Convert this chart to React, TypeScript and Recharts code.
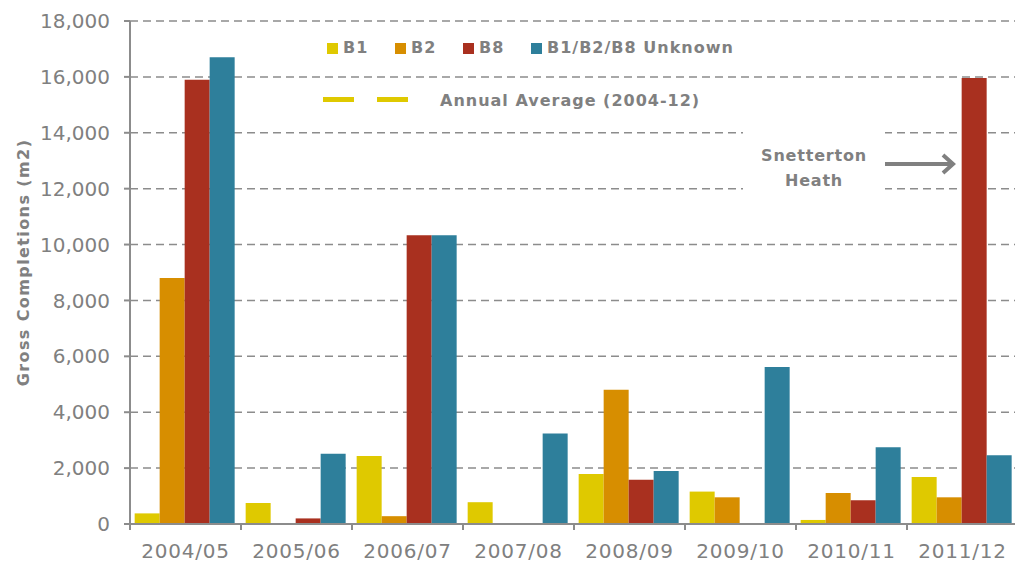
import React from "react";
import { BarChart, Bar, XAxis, YAxis, CartesianGrid } from "recharts";

const categories = [
  "2004/05",
  "2005/06",
  "2006/07",
  "2007/08",
  "2008/09",
  "2009/10",
  "2010/11",
  "2011/12",
];
const b1 = [380, 750, 2430, 780, 1790, 1160, 145, 1680];
const b2 = [8800, 0, 280, 0, 4800, 955, 1110, 955];
const b8 = [15900, 200, 10330, 0, 1580, 0, 850, 15960];
const unknown = [16700, 2510, 10330, 3240, 1900, 5620, 2750, 2460];
const yTicks = [0, 2000, 4000, 6000, 8000, 10000, 12000, 14000, 16000, 18000];

const series = [
  { key: "b1", name: "B1", color: "#DFC900" },
  { key: "b2", name: "B2", color: "#D78E00" },
  { key: "b8", name: "B8", color: "#A9301F" },
  { key: "unknown", name: "B1/B2/B8 Unknown", color: "#2E7F9B" },
];

const data = categories.map((year, i) => ({
  year,
  b1: b1[i],
  b2: b2[i],
  b8: b8[i],
  unknown: unknown[i],
}));

const GREY = "#808080";
const AXIS = "#8c8c8c";
const FONT = "'DejaVu Sans', sans-serif";

// category labels centred, tick marks on the category boundaries
function XTick(props: any) {
  const { x, y, payload } = props;
  const half = payload && payload.offset ? payload.offset : 55.5;
  return (
    <g>
      <line x1={x - half} x2={x - half} y1={y} y2={y + 6} stroke={AXIS} strokeWidth={2} />
      <text x={x} y={y + 34} textAnchor="middle" fill={GREY} fontSize={20} letterSpacing={0.8} fontFamily={FONT}>
        {payload.value}
      </text>
    </g>
  );
}

function YLabel(props: any) {
  const vb = props.viewBox || { y: 21, height: 503 };
  const cx = 23;
  const cy = vb.y + vb.height / 2 - 10;
  return (
    <text
      x={cx}
      y={cy}
      transform={`rotate(-90, ${cx}, ${cy})`}
      textAnchor="middle"
      dominantBaseline="central"
      fill={GREY}
      fontSize={16}
      fontWeight="bold"
      letterSpacing={1.4}
      fontFamily={FONT}
    >
      Gross Completions (m2)
    </text>
  );
}

const boldText: React.CSSProperties = {
  position: "absolute",
  color: GREY,
  fontFamily: FONT,
  fontWeight: "bold",
  fontSize: 16,
  letterSpacing: 1,
  whiteSpace: "nowrap",
  lineHeight: "16px",
};

export default function App() {
  const legendX = [327, 395, 463, 531];
  return (
    <div
      style={{
        position: "fixed",
        left: 0,
        top: 0,
        width: 1015,
        height: 562,
        overflow: "hidden",
        background: "#fff",
        fontFamily: FONT,
      }}
    >
      <BarChart
        width={1018}
        height={562}
        data={data}
        margin={{ top: 21, right: 0, left: 0, bottom: 0 }}
        barCategoryGap="4.2%"
        barGap={0}
      >
        <CartesianGrid vertical={false} stroke={AXIS} strokeDasharray="8 5" strokeWidth={1.5} />
        <XAxis
          dataKey="year"
          height={38}
          interval={0}
          tickLine={false}
          tickSize={0}
          tickMargin={0}
          axisLine={{ stroke: AXIS, strokeWidth: 2 }}
          tick={<XTick />}
        />
        <YAxis
          width={130}
          domain={[0, 18000]}
          ticks={yTicks}
          interval={0}
          tickSize={6}
          tickMargin={14}
          tickLine={{ stroke: AXIS, strokeWidth: 2 }}
          axisLine={{ stroke: AXIS, strokeWidth: 2 }}
          tick={{ fill: GREY, fontSize: 20, fontFamily: FONT }}
          tickFormatter={(v: number) => v.toLocaleString("en-US")}
          label={<YLabel />}
        />
        {series.map((s) => (
          <Bar
            key={s.key}
            dataKey={s.key}
            name={s.name}
            fill={s.color}
            isAnimationActive={false}
          />
        ))}
      </BarChart>

      {/* legend */}
      {series.map((s, i) => (
        <React.Fragment key={s.key}>
          <div
            style={{
              position: "absolute",
              left: legendX[i],
              top: 43,
              width: 11,
              height: 11,
              background: s.color,
            }}
          />
          <div style={{ ...boldText, left: legendX[i] + 16, top: 40 }}>{s.name}</div>
        </React.Fragment>
      ))}
      <div style={{ position: "absolute", left: 323, top: 97, width: 31, height: 5, background: "#DFC900" }} />
      <div style={{ position: "absolute", left: 377, top: 97, width: 31, height: 5, background: "#DFC900" }} />
      <div style={{ ...boldText, left: 440, top: 93 }}>Annual Average (2004-12)</div>

      {/* Snetterton Heath annotation */}
      <div
        style={{
          position: "absolute",
          left: 743,
          top: 124,
          width: 142,
          height: 72,
          background: "#fff",
        }}
      />
      <div
        style={{
          ...boldText,
          left: 743,
          top: 143,
          width: 142,
          textAlign: "center",
          lineHeight: "25px",
          letterSpacing: 0.8,
          whiteSpace: "normal",
        }}
      >
        Snetterton
        <br />
        Heath
      </div>
      <svg style={{ position: "absolute", left: 0, top: 0 }} width={1015} height={562} pointerEvents="none">
        <line x1={885} y1={164} x2={952} y2={164} stroke={GREY} strokeWidth={4} />
        <polyline points="943,155 953,164 943,173" fill="none" stroke={GREY} strokeWidth={4} strokeLinejoin="miter" />
      </svg>
    </div>
  );
}
